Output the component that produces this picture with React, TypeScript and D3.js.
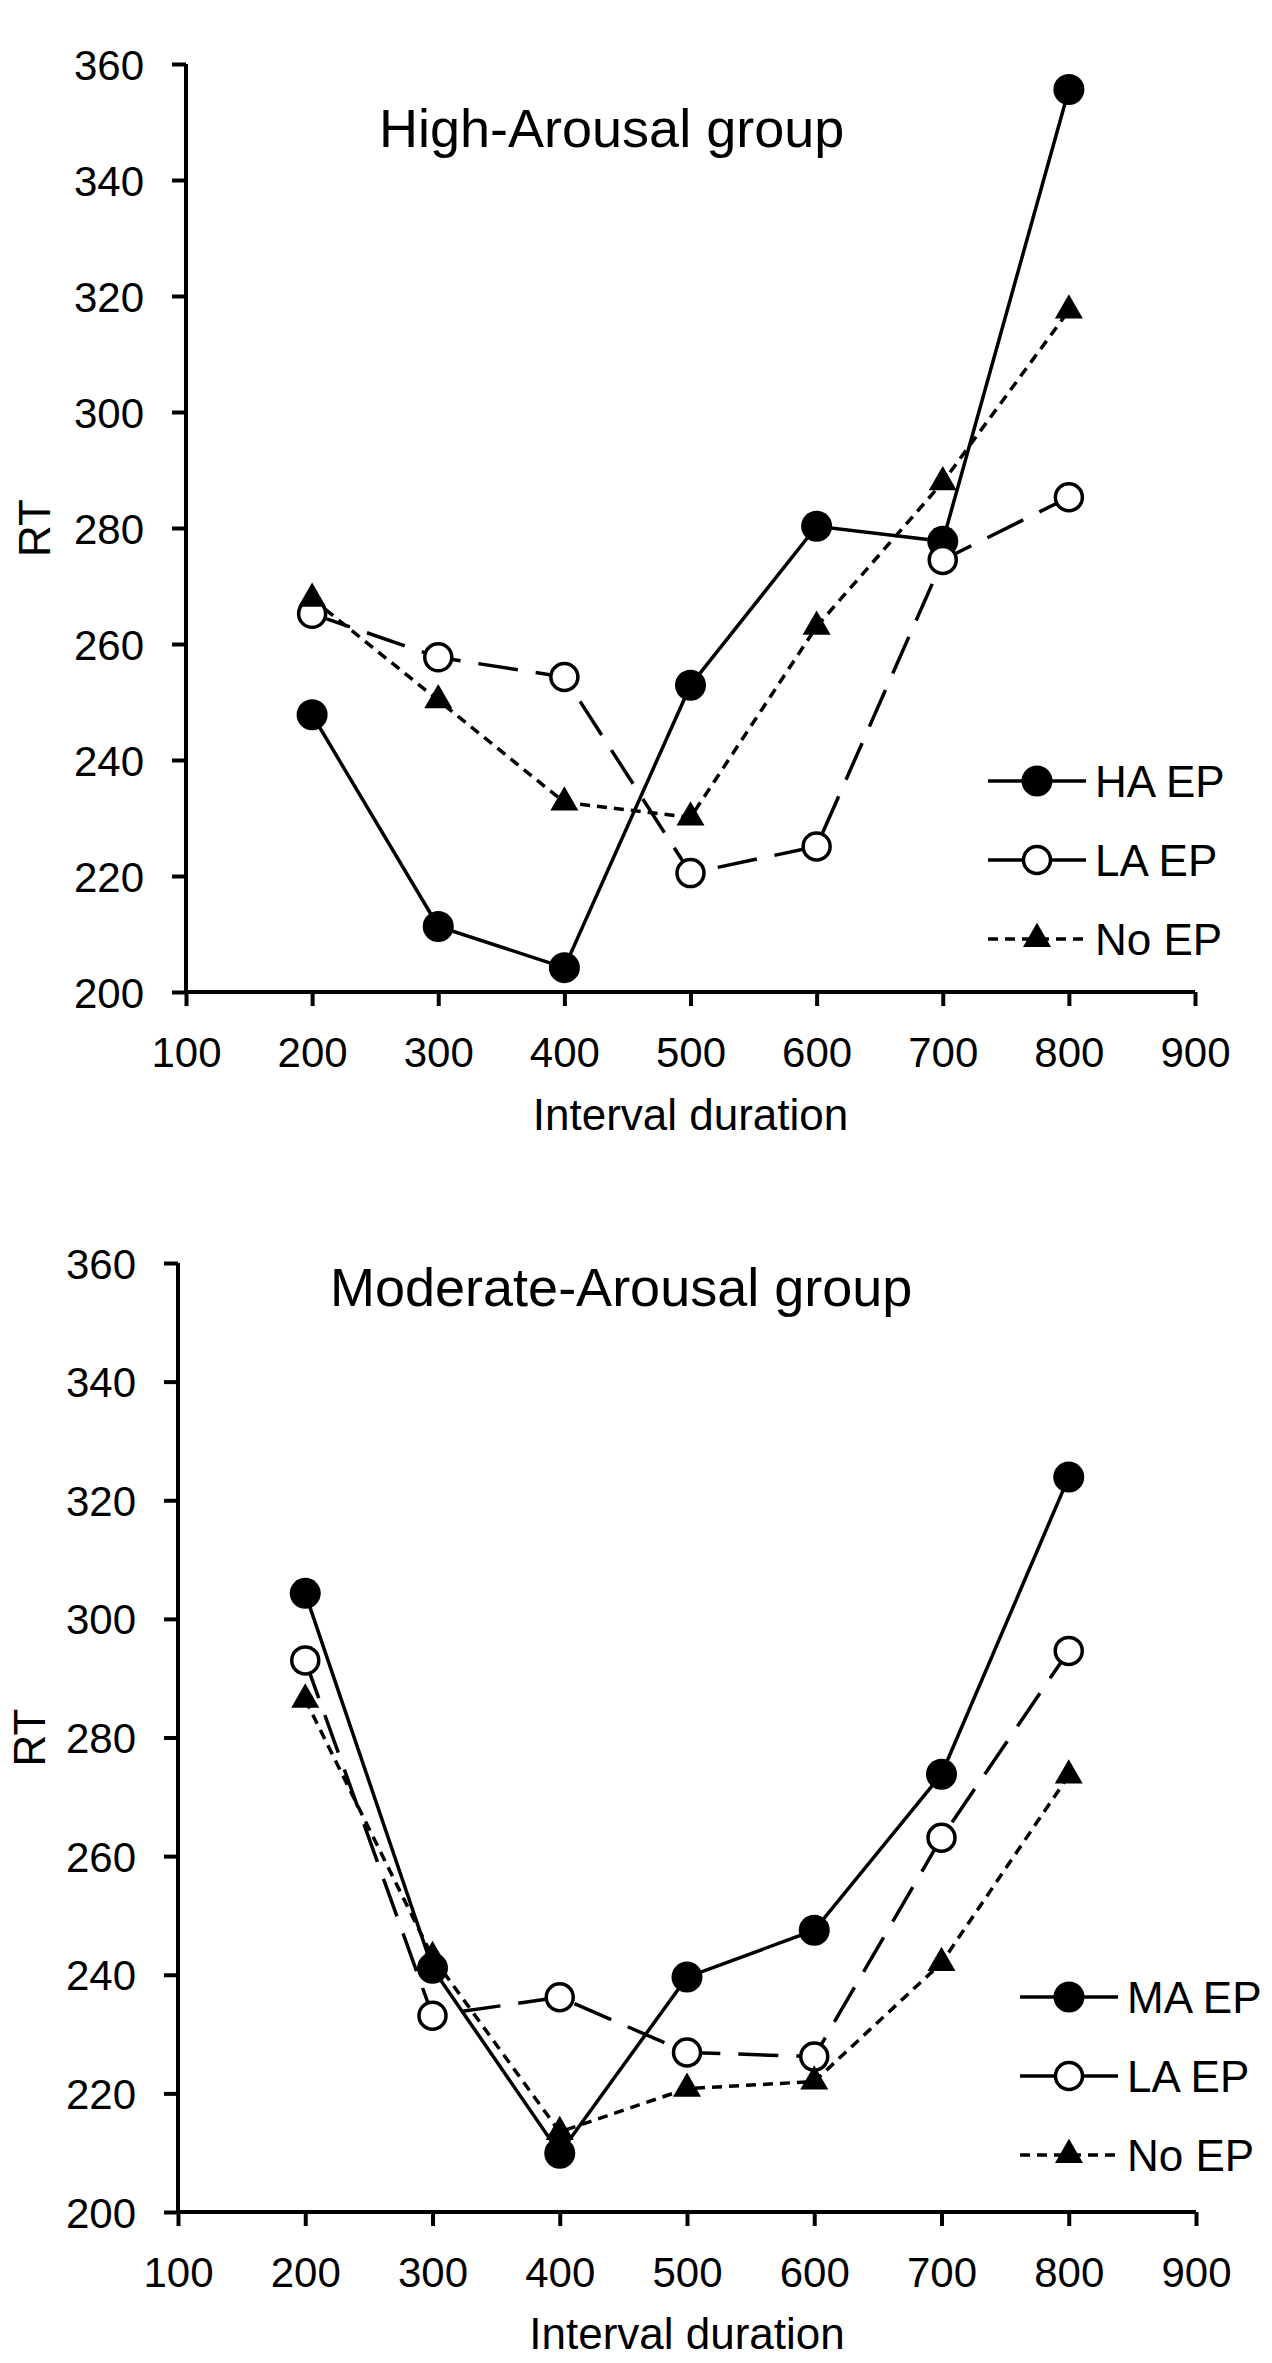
import { useEffect, useRef } from "react";
import * as d3 from "d3";

// interval durations (x) and axis ticks
const durations = [200, 300, 400, 500, 600, 700, 800];
const xTicks = [100, 200, 300, 400, 500, 600, 700, 800, 900];
const yTicks = [200, 220, 240, 260, 280, 300, 320, 340, 360];

// High-Arousal group RT
const highHA = [247.8, 211.3, 204.2, 252.9, 280.3, 277.7, 355.6];
const highLA = [265.2, 257.7, 254.3, 220.5, 225.1, 274.5, 285.3];
const highNo = [267.8, 250.3, 232.7, 230.1, 263.0, 287.9, 317.5];

// Moderate-Arousal group RT
const modMA = [304.3, 241.1, 209.9, 239.6, 247.5, 273.8, 323.9];
const modLA = [293.0, 233.1, 236.2, 226.9, 226.2, 263.1, 294.6];
const modNo = [286.4, 243.0, 213.5, 220.8, 222.0, 242.0, 273.6];

const FONT = "'Liberation Sans', Arial, Helvetica, sans-serif";

type Marker = "filled" | "open" | "triangle";

interface SeriesDef {
  name: string;
  values: number[];
  marker: Marker;
  dash: string | null;
}

interface PanelDef {
  title: string;
  series: SeriesDef[];
  left: number;
  right: number;
  top: number;
  bottom: number;
  titleX: number;
  titleY: number;
  legendX: number;
  legendY: number;
  rtX: number;
  xLabelY: number;
}

const panels: PanelDef[] = [
  {
    title: "High-Arousal group",
    series: [
      { name: "HA EP", values: highHA, marker: "filled", dash: null },
      { name: "LA EP", values: highLA, marker: "open", dash: "40,18" },
      { name: "No EP", values: highNo, marker: "triangle", dash: "10,7" },
    ],
    left: 186, right: 1195, top: 64, bottom: 992,
    titleX: 379, titleY: 147,
    legendX: 988, legendY: 781,
    rtX: 34, xLabelY: 1130,
  },
  {
    title: "Moderate-Arousal group",
    series: [
      { name: "MA EP", values: modMA, marker: "filled", dash: null },
      { name: "LA EP", values: modLA, marker: "open", dash: "40,18" },
      { name: "No EP", values: modNo, marker: "triangle", dash: "10,7" },
    ],
    left: 178, right: 1196, top: 1263, bottom: 2212,
    titleX: 330, titleY: 1306,
    legendX: 1020, legendY: 1997,
    rtX: 29, xLabelY: 2349,
  },
];

function drawMarker(g: any, kind: Marker, cx: number, cy: number) {
  if (kind === "filled") {
    g.append("circle").attr("cx", cx).attr("cy", cy).attr("r", 15.5).attr("fill", "#000");
  } else if (kind === "open") {
    g.append("circle").attr("cx", cx).attr("cy", cy).attr("r", 13.5)
      .attr("fill", "#fff").attr("stroke", "#000").attr("stroke-width", 3.5);
  } else {
    g.append("path")
      .attr("transform", `translate(${cx},${cy})`)
      .attr("d", d3.symbol(d3.symbolTriangle, 340)())
      .attr("fill", "#000");
  }
}

export default function App() {
  const svgRef = useRef(null);

  useEffect(() => {
    const svg = d3.select(svgRef.current);
    svg.selectAll("*").remove();

    panels.forEach((p) => {
      const g = svg.append("g");
      const x = d3.scaleLinear().domain([100, 900]).range([p.left, p.right]);
      const y = d3.scaleLinear().domain([200, 360]).range([p.bottom, p.top]);

      // axes
      const xAxis = g.append("g")
        .attr("transform", `translate(0,${p.bottom})`)
        .call(d3.axisBottom(x).tickValues(xTicks).tickSize(14).tickSizeOuter(14).tickPadding(30));
      const yAxis = g.append("g")
        .attr("transform", `translate(${p.left},0)`)
        .call(d3.axisLeft(y).tickValues(yTicks).tickSize(14).tickSizeOuter(14).tickPadding(28));
      [xAxis, yAxis].forEach((a) => {
        a.selectAll("path.domain").attr("stroke", "#000").attr("stroke-width", 4);
        a.selectAll(".tick line").attr("stroke", "#000").attr("stroke-width", 4);
        a.selectAll(".tick text")
          .attr("fill", "#000")
          .attr("font-family", FONT)
          .attr("font-size", 42);
      });
      // keep domain without outer ticks bending: redraw as straight lines
      xAxis.select("path.domain").attr("d", `M${p.left},0H${p.right}`);
      yAxis.select("path.domain").attr("d", `M0,${p.top}V${p.bottom}`);
      xAxis.selectAll(".tick text").attr("dy", null).attr("y", 75);
      yAxis.selectAll(".tick text").attr("dy", null).attr("y", 15);

      // series
      p.series.forEach((s) => {
        const line = d3.line<number>()
          .x((_, i) => x(durations[i]))
          .y((d) => y(d));
        g.append("path")
          .datum(s.values)
          .attr("d", line)
          .attr("fill", "none")
          .attr("stroke", "#000")
          .attr("stroke-width", 3.5)
          .attr("stroke-dasharray", s.dash);
        s.values.forEach((v, i) => drawMarker(g, s.marker, x(durations[i]), y(v)));
      });

      // title
      g.append("text")
        .attr("x", p.titleX).attr("y", p.titleY)
        .attr("font-family", FONT).attr("font-size", 54).attr("fill", "#000")
        .text(p.title);

      // axis labels
      g.append("text")
        .attr("x", (p.left + p.right) / 2).attr("y", p.xLabelY)
        .attr("text-anchor", "middle")
        .attr("font-family", FONT).attr("font-size", 44).attr("fill", "#000")
        .text("Interval duration");
      g.append("text")
        .attr("transform", `translate(${p.rtX + 16},${(p.top + p.bottom) / 2}) rotate(-90)`)
        .attr("text-anchor", "middle")
        .attr("font-family", FONT).attr("font-size", 44).attr("fill", "#000")
        .text("RT");

      // legend
      p.series.forEach((s, i) => {
        const ly = p.legendY + i * 79;
        g.append("line")
          .attr("x1", p.legendX).attr("x2", p.legendX + 98)
          .attr("y1", ly).attr("y2", ly)
          .attr("stroke", "#000").attr("stroke-width", 3.5)
          .attr("stroke-dasharray", s.marker === "triangle" ? s.dash : null);
        drawMarker(g, s.marker, p.legendX + 49, ly);
        g.append("text")
          .attr("x", p.legendX + 107).attr("y", ly + 16)
          .attr("font-family", FONT).attr("font-size", 44).attr("fill", "#000")
          .text(s.name);
      });
    });
  }, []);

  return (
    <div style={{ position: "absolute", left: 0, top: 0, background: "#fff" }}>
      <svg ref={svgRef} width={1272} height={2363} style={{ display: "block" }} />
    </div>
  );
}
